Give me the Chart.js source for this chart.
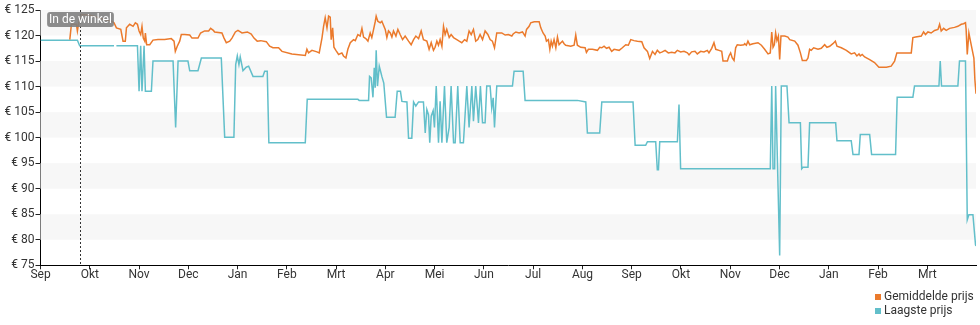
<!DOCTYPE html>
<html lang="nl">
<head>
<meta charset="utf-8">
<title>Prijsverloop</title>
<script src="https://cdn.jsdelivr.net/npm/chart.js@4/dist/chart.umd.min.js"></script>
<style>
  html, body { margin: 0; padding: 0; background: #fff; }
  canvas { display: block; }
</style>
</head>
<body>
<canvas id="prijsgrafiek" width="980" height="325"></canvas>
<script>
// Maandlabels op de x-as (gelijk verdeelde maandposities)
const monthLabels = ['Sep', 'Okt', 'Nov', 'Dec', 'Jan', 'Feb', 'Mrt', 'Apr', 'Mei', 'Jun',
  'Jul', 'Aug', 'Sep', 'Okt', 'Nov', 'Dec', 'Jan', 'Feb', 'Mrt'];
const daysPerMonth = 30.44;
const lastDay = 578;

// Prijsas in euro
const priceMin = 75;
const priceMax = 125;
const priceStep = 5;

// Dag waarop het product in de winkel kwam
const inStoreDay = 24.5;
const inStoreLabel = 'In de winkel';

const seriesLabels = ['Gemiddelde prijs', 'Laagste prijs'];
const seriesColors = ['#eb7a2c', '#62bfca'];

// Gemiddelde prijs: [dag, euro]
const avgPrice = [
  [18.1,119.2],[19.1,122.2],[22.2,122.2],[22.8,120.9],[23.6,122.5],[24.9,124.1],[30,124.0],[38,123.3],[44,122.8],
  [45.4,122.5],[46.9,121.5],[49.6,121.2],[51.0,118.9],[52.4,118.9],[53.1,121.5],[55.1,122.2],[57.2,121.8],
  [58.6,122.5],[59.9,122.2],[60.9,120.9],[61.9,120.2],[62.7,121.8],[63.5,119.5],[64.4,118.9],[64.8,120.5],
  [65.6,118.2],[67.5,118.2],[69.5,119.1],[72.6,119.2],[76.7,119.2],[80.8,119.4],[82.5,118.9],[83.3,116.9],
  [84.5,117.9],[86.0,118.9],[87.0,120.2],[89.1,120.2],[92.2,120.1],[93.6,119.5],[97.3,119.5],[98.9,120.5],
  [101.4,120.9],[103.9,120.9],[105.1,121.4],[106.8,121.0],[107.6,120.7],[112.1,120.5],[113.4,119.5],
  [114.8,118.6],[116.9,118.9],[118.3,119.5],[120.4,120.7],[122.0,121.0],[124.5,120.5],[127.8,120.7],
  [130.2,120.3],[131.9,119.5],[133.9,118.9],[136.0,119.0],[139.5,118.8],[141.6,117.9],[143.6,117.6],
  [147.1,117.6],[149.2,116.9],[155.3,116.4],[163.6,116.1],[164.6,117.3],[165.6,116.6],[167.7,117.1],
  [170.8,116.8],[172.2,116.6],[173.9,119.5],[174.9,121.8],[175.9,123.5],[177.0,121.5],[178.0,123.8],
  [179.0,123.6],[179.6,119.2],[180.5,121.5],[181.3,117.7],[182.5,117.1],[184.2,116.3],[186.2,116.6],
  [187.2,116.0],[188.7,115.6],[189.9,117.3],[191.4,118.6],[193.4,119.2],[194.5,119.0],[196.1,120.2],
  [197.5,119.9],[198.6,121.4],[199.6,119.7],[201.0,119.4],[202.3,118.9],[203.7,120.5],[204.7,119.6],
  [205.8,121.2],[206.8,122.7],[207.4,123.8],[208.4,122.8],[209.9,122.5],[210.9,122.8],[213.0,121.2],
  [214.0,119.6],[215.0,120.9],[216.1,120.5],[217.1,119.7],[218.1,120.9],[219.6,119.9],[220.8,121.2],
  [222.2,120.2],[223.7,119.2],[225.3,119.9],[227.4,118.9],[229.0,118.2],[230.5,119.2],[231.9,119.9],
  [233.6,119.4],[235.2,120.9],[236.6,119.2],[238.7,118.9],[240.1,117.3],[241.4,118.6],[242.8,117.1],
  [243.8,117.7],[244.9,118.9],[245.9,118.1],[246.9,119.2],[248.0,117.9],[249.0,121.8],[250.0,120.2],
  [251.0,121.2],[252.5,119.6],[253.7,120.2],[255.2,119.6],[257.2,119.2],[258.7,118.9],[260.3,118.6],
  [262.0,119.2],[263.4,118.9],[264.8,120.9],[266.1,120.2],[267.5,121.2],[268.9,118.9],[270.2,119.2],
  [271.6,120.2],[273.1,119.2],[274.7,120.9],[276.4,120.2],[277.8,119.2],[279.2,118.9],[280.5,117.6],
  [281.9,120.5],[285.0,120.5],[287.1,120.1],[289.1,120.2],[291.2,119.9],
  [292.0,120.3],[293.7,120.7],[295.7,120.5],[297.8,120.7],[299.4,119.9],[300.3,121.2],[301.9,121.8],
  [302.9,122.5],[305.0,122.7],[308.1,122.7],[309.1,121.5],[310.5,120.5],[311.8,119.9],[312.6,118.9],
  [313.8,119.2],[314.7,117.3],[315.5,118.9],[316.3,117.9],[317.3,119.2],[318.4,117.6],[319.4,119.7],
  [320.4,118.2],[321.5,118.6],[322.5,118.9],[323.5,118.4],[324.5,118.1],[327.6,117.9],[329.7,118.1],
  [330.7,120.1],[331.7,118.1],[333.8,117.7],[336.5,117.6],[337.3,116.7],[338.5,117.3],[341.0,117.3],
  [344.1,117.1],[345.5,117.7],[346.8,117.6],[348.2,117.9],[349.7,117.5],[351.3,117.7],[352.9,116.9],
  [354.4,117.3],[357.5,117.1],[359.5,117.6],[361.6,118.2],[363.2,118.1],[364.7,119.2],[366.7,119.0],
  [368.8,118.9],[371.5,118.8],[372.9,117.6],[375.0,116.9],[376.4,115.5],[378.1,116.9],[379.7,116.3],
  [381.1,117.1],[382.6,116.6],[384.2,116.8],[385.9,117.1],[387.9,116.6],[390.0,116.7],[392.0,116.6],
  [393.5,117.1],[395.5,116.8],[397.6,116.9],[399.7,116.6],[400.7,116.2],[402.3,116.8],[404.4,116.9],
  [405.8,116.4],[407.9,116.9],[409.9,116.8],[412.0,117.1],[413.0,116.6],[414.7,117.5],[416.1,118.6],
  [417.2,117.3],[419.2,117.1],[420.9,116.9],[421.7,115.0],[424.4,115.0],[425.4,116.0],[426.4,116.6],
  [427.4,115.6],[428.5,115.1],[429.5,117.6],[430.5,118.2],[432.6,118.1],[434.6,118.2],
  [435.1,118.4],[436.1,118.1],[437.1,118.9],[438.2,118.2],[440.2,118.4],[443.3,118.6],[445.4,118.1],
  [447.4,117.3],[449.5,116.4],[450.9,116.6],[451.8,120.7],[452.6,117.7],[453.4,118.2],[454.2,120.5],
  [455.0,119.0],[455.9,119.9],[456.7,115.3],[457.5,119.9],[459.8,119.9],[461.8,119.7],[462.9,119.2],
  [466.0,118.9],[468.0,118.1],[469.5,116.6],[470.7,115.1],[473.2,115.1],[474.2,115.6],[475.2,117.3],
  [476.2,117.1],[477.7,117.6],[480.4,117.3],[482.4,117.5],[484.5,118.2],[485.9,117.7],[487.6,117.9],
  [489.6,118.4],[491.1,118.9],[492.1,117.9],[494.8,117.6],[497.9,117.1],[500.9,116.4],[503.0,116.6],
  [504.4,116.0],[505.7,116.4],[506.5,116.0],[507.7,116.3],[509.2,115.8],[512.3,115.3],[515.3,114.7],
  [518.0,113.8],[522.6,113.8],[525.6,114.0],[527.7,115.0],[529.1,116.6],[530.8,116.6],[538.0,116.6],
  [539.0,119.6],[540.7,119.7],[544.2,119.9],[545.6,120.7],[546.8,120.2],[548.3,120.7],[550.3,120.5],
  [552.4,121.0],[554.5,121.2],[555.5,122.2],[556.5,120.9],[558.0,121.4],[559.6,121.0],[561.7,121.4],
  [564.7,121.6],[566.8,121.8],[568.9,122.2],[570.3,122.3],[571.5,122.5],[571.9,121.2],[572.6,116.3],
  [573.6,120.5],[574.4,119.2],[575.6,117.3],[576.7,115.6],[577.3,111.4],[578.0,108.6]
];

// Laagste prijs: [dag, euro]; null = geen gegevens
const lowestPrice = [
  [0,119.1],[22.8,119.1],[24.2,118.0],[45.4,118.0],[46.2,null],[46.9,118.0],[59.9,118.0],[60.9,109.1],
  [61.9,118.0],[62.7,109.1],[64.0,118.0],[64.8,109.1],[68.5,109.1],[69.5,115.0],[81.9,115.0],[83.5,102.0],
  [85.0,115.0],[91.1,115.0],[92.2,113.1],[97.3,113.1],[99.4,115.6],[111.7,115.6],[113.8,100.1],
  [119.5,100.1],[120.6,114.3],[121.6,116.0],[122.6,114.3],[123.4,115.8],[125.1,113.1],[127.1,113.8],
  [128.6,114.0],[131.3,112.0],[137.4,112.0],[138.5,113.0],[140.1,113.0],[141.1,99.0],[163.6,99.0],
  [164.8,107.5],[196.1,107.5],[196.9,107.3],[202.7,107.3],[203.3,112.0],[204.3,111.7],[205.4,107.9],
  [206.2,113.7],[206.8,109.8],[207.4,117.1],[208.2,110.1],[209.3,114.0],[210.1,113.0],[210.9,112.0],
  [212.1,110.7],[213.8,104.0],[219.1,104.0],[220.4,109.1],[222.4,109.1],[223.3,107.1],[226.4,107.0],
  [227.4,99.9],[229.4,99.9],[230.5,107.0],[231.9,106.2],[233.6,107.0],[236.6,107.0],[237.7,100.9],
  [238.7,105.5],[239.7,104.5],[240.5,99.0],[241.4,104.2],[242.6,105.3],[243.4,102.0],[244.5,110.1],
  [245.9,99.0],[246.9,107.1],[248.0,99.0],[249.6,110.1],[251.0,99.0],[252.5,102.0],[253.7,110.1],
  [255.2,99.0],[256.2,99.0],[257.8,110.1],[259.3,99.0],[261.3,99.0],[263.4,110.1],[264.8,102.0],
  [266.5,110.1],[267.5,103.2],[268.9,110.1],[270.6,102.9],[271.8,110.1],[273.1,102.9],[274.7,102.9],
  [275.7,110.1],[277.8,110.1],[278.8,105.8],[279.7,107.8],[280.5,102.0],[281.9,110.1],[291.6,110.1],
  [292.6,113.0],[298.2,113.0],[299.4,107.3],[331.7,107.3],[336.9,107.0],[337.9,100.9],[345.5,100.9],
  [346.8,107.0],[366.1,107.0],[367.4,98.5],[373.9,98.5],[375.0,99.2],[380.1,99.2],[381.1,93.7],
  [381.8,93.7],[382.6,99.2],[393.5,99.2],[394.5,106.5],[395.5,93.9],[450.9,93.9],[451.8,110.1],
  [452.6,93.9],[453.6,93.9],[454.2,110.1],[456.7,76.9],[457.7,110.1],[461.2,110.1],[462.5,102.9],
  [469.5,102.9],[470.3,93.9],[471.1,94.2],[474.2,94.2],[475.2,102.9],[491.3,102.9],[492.1,99.4],
  [500.9,99.4],[502.0,96.7],[505.7,96.7],[506.5,100.6],[512.3,100.6],[513.5,96.7],[528.3,96.7],
  [529.3,107.9],[539.0,107.9],[540.0,110.1],[555.1,110.1],[555.9,115.0],[556.7,110.1],[566.8,110.1],
  [567.8,115.0],[571.5,115.0],[572.6,83.9],[573.6,84.9],[576.1,84.9],[577.7,79.0],[578.0,78.8]
];

const toPoints = rows => rows.map(([x, y]) => ({ x, y }));

const FONT = 'Roboto, "Liberation Sans", Arial, sans-serif';
const TEXT = '#333333';

// Afwisselende grijze banden achter de lijnen
const bandPlugin = {
  id: 'bands',
  beforeDatasetsDraw(chart) {
    const { ctx, chartArea, scales: { y } } = chart;
    ctx.save();
    ctx.fillStyle = '#f7f7f7';
    for (let v = priceMax, i = 0; v > priceMin; v -= priceStep, i++) {
      if (i % 2 !== 0) continue;
      const top = y.getPixelForValue(v);
      const bottom = y.getPixelForValue(v - priceStep);
      ctx.fillRect(chartArea.left, top, chartArea.right - chartArea.left, bottom - top);
    }
    ctx.restore();
  }
};

// Gestippelde markering met label
const markerPlugin = {
  id: 'inStore',
  afterDatasetsDraw(chart) {
    const { ctx, chartArea, scales: { x } } = chart;
    const px = Math.round(x.getPixelForValue(inStoreDay)) + 0.5;
    ctx.save();
    ctx.strokeStyle = '#333';
    ctx.lineWidth = 1;
    ctx.setLineDash([2, 2]);
    ctx.beginPath();
    ctx.moveTo(px, chartArea.top);
    ctx.lineTo(px, chartArea.bottom);
    ctx.stroke();
    ctx.setLineDash([]);

    ctx.font = '12px ' + FONT;
    const w = ctx.measureText(inStoreLabel).width + 4;
    const h = 15;
    const bx = px - w / 2;
    const by = chartArea.top + 2;
    ctx.fillStyle = 'rgba(128,128,128,0.9)';
    ctx.beginPath();
    ctx.roundRect(bx, by, w, h, 3);
    ctx.fill();
    ctx.fillStyle = '#ffffff';
    ctx.textAlign = 'center';
    ctx.textBaseline = 'middle';
    ctx.fillText(inStoreLabel, px, by + h / 2 + 0.5);
    ctx.restore();
  }
};

// Legenda rechtsonder, items onder elkaar
const legendPlugin = {
  id: 'stackedLegend',
  afterDraw(chart) {
    const { ctx } = chart;
    ctx.save();
    ctx.font = '12px ' + FONT;
    ctx.textBaseline = 'alphabetic';
    ctx.textAlign = 'left';
    chart.data.datasets.forEach((ds, i) => {
      const baseline = 300 + i * 14;
      ctx.fillStyle = ds.borderColor;
      ctx.fillRect(875, baseline - 6, 6, 6);
      ctx.fillStyle = TEXT;
      ctx.fillText(ds.label, 884, baseline);
    });
    ctx.restore();
  }
};

new Chart(document.getElementById('prijsgrafiek'), {
  type: 'line',
  data: {
    datasets: [
      {
        label: seriesLabels[0],
        data: toPoints(avgPrice),
        borderColor: seriesColors[0],
        backgroundColor: seriesColors[0],
        borderWidth: 1.5,
        pointRadius: 0,
        tension: 0,
        spanGaps: false
      },
      {
        label: seriesLabels[1],
        data: toPoints(lowestPrice),
        borderColor: seriesColors[1],
        backgroundColor: seriesColors[1],
        borderWidth: 1.5,
        pointRadius: 0,
        tension: 0,
        spanGaps: false
      }
    ]
  },
  options: {
    responsive: false,
    animation: false,
    devicePixelRatio: 1,
    layout: { padding: { top: 10, right: 4, left: 0, bottom: 0 } },
    plugins: {
      legend: { display: false },
      tooltip: { enabled: false }
    },
    scales: {
      x: {
        type: 'linear',
        min: 0,
        max: lastDay,
        afterBuildTicks(scale) {
          scale.ticks = monthLabels.map((_, i) => ({ value: i * daysPerMonth }));
        },
        afterFit(scale) { scale.height = 59.7; },
        ticks: {
          autoSkip: false,
          maxRotation: 0,
          padding: -2,
          color: TEXT,
          font: { family: FONT, size: 12 },
          callback: (value, index) => monthLabels[index]
        },
        grid: { drawOnChartArea: false, drawTicks: true, tickLength: 4, color: '#222' },
        border: { color: '#000', width: 1 }
      },
      y: {
        min: priceMin,
        max: priceMax,
        afterFit(scale) { scale.width = 40.5; },
        ticks: {
          stepSize: priceStep,
          padding: 1,
          color: TEXT,
          font: { family: FONT, size: 12 },
          callback: v => '€ ' + v
        },
        grid: { drawOnChartArea: false, drawTicks: true, tickLength: 5, color: '#222' },
        border: { color: '#000', width: 1 }
      }
    }
  },
  plugins: [bandPlugin, markerPlugin, legendPlugin]
});
</script>
</body>
</html>
